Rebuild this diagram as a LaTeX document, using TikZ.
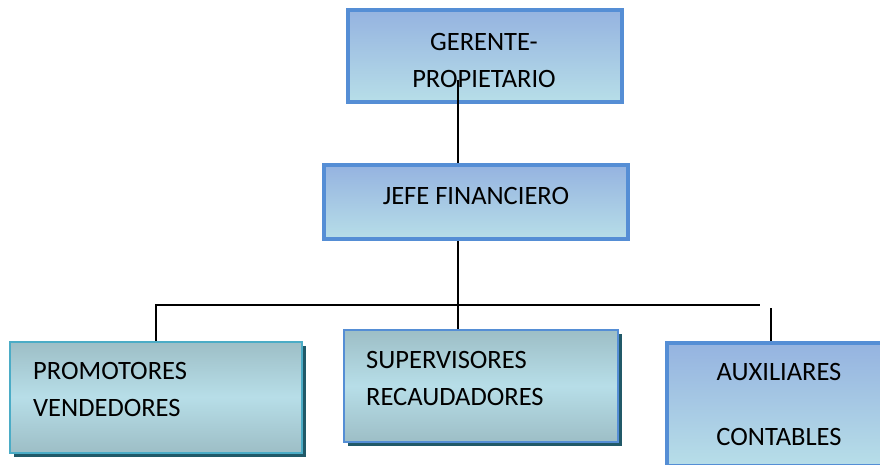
\documentclass[tikz,border=0pt]{standalone}
\usepackage{fontspec}
\setmainfont{Carlito}
\usetikzlibrary{shadows}
\definecolor{bord}{HTML}{558ED5}
\definecolor{bordteal}{HTML}{4BACC6}
\definecolor{topblue}{HTML}{95B3E0}
\definecolor{lowblue}{HTML}{B7DEE8}
\definecolor{greyteal}{HTML}{9DBEC6}
\definecolor{shad}{HTML}{215968}
\begin{document}
\begin{tikzpicture}[x=1pt,y=-1pt,
  txt/.style={font=\fontsize{26.5}{37}\selectfont, inner sep=0pt},
  bluebox/.style={draw=bord, line width=4pt, top color=topblue, bottom color=lowblue, minimum width=#1, inner sep=0pt},
  tealbox/.style={line width=2pt, top color=greyteal, bottom color=greyteal, middle color=lowblue,
     drop shadow={shadow xshift=4pt, shadow yshift=-4pt, fill=shad, opacity=1}, inner sep=0pt},
  conn/.style={line width=1.3pt, black}]
\useasboundingbox (0,0) rectangle (880,464);
% top box
\node[bluebox=274pt, minimum height=92pt] (ger) at (485,56) {};
\node[txt, align=center, text width=250pt] (gert) at (484,60) {GERENTE-\\PROPIETARIO};
% middle box
\node[bluebox=304pt, minimum height=74pt] (jefe) at (476,202) {};
\node[txt] (jefet) at (476,196) {JEFE FINANCIERO};
% bottom boxes
\node[tealbox, draw=bordteal, minimum width=292pt, minimum height=111pt] (prom) at (156,397) {};
\node[txt, anchor=west, align=left] (promt) at (33,389) {PROMOTORES\\VENDEDORES};
\node[tealbox, draw=bord, minimum width=274pt, minimum height=112pt] (sup) at (481,386) {};
\node[txt, anchor=west, align=left] (supt) at (366,378) {SUPERVISORES\\RECAUDADORES};
\node[bluebox=224pt, minimum height=123pt] (aux) at (779,404) {};
\node[txt, align=center] (auxt) at (779,404) {AUXILIARES\\[28pt]CONTABLES};
% connectors
\coordinate (c1) at (458,80);
\coordinate (hl) at (155,305);
\coordinate (hr) at (760,305);
\coordinate (rv) at (771,308);
\draw[conn] (c1) -- (c1 |- jefe.north);
\draw[conn] (jefe.south -| c1) -- (sup.north -| c1);
\draw[conn] (hl) -- (hr);
\draw[line width=2.5pt] (412,305) -- (462,305);
\draw[conn] (156,306) -- (prom.north -| 156,0);
\draw[conn] (rv) -- (aux.north -| rv);
\end{tikzpicture}
\end{document}
